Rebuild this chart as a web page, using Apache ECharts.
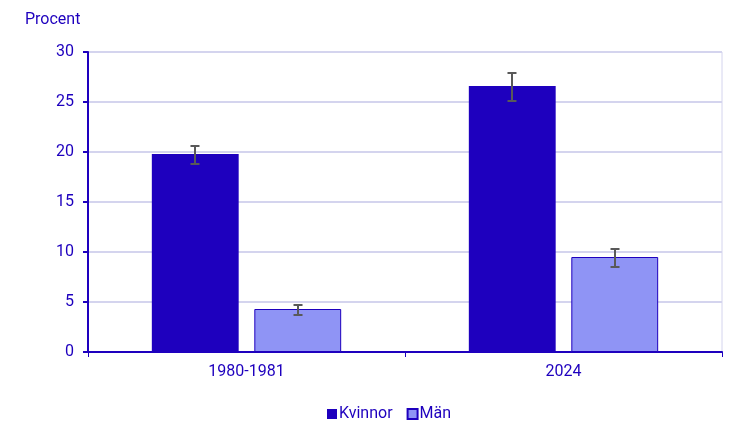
<!DOCTYPE html>
<html>
<head>
<meta charset="utf-8">
<script src="https://cdn.jsdelivr.net/npm/echarts@6/dist/echarts.min.js"></script>
<style>
  html, body { margin: 0; padding: 0; background: #fff; }
  #chart { width: 751px; height: 433px; }
</style>
</head>
<body>
<div id="chart"></div>
<script>
// data
const categories = ['1980-1981', '2024'];
const kvinnor = [19.8, 26.6];
const man = [4.3, 9.5];
// konfidensintervall
const kvinnorLow = [18.8, 25.1];
const kvinnorHigh = [20.6, 27.9];
const manLow = [3.7, 8.5];
const manHigh = [4.7, 10.3];

const textBlue = '#1e00be';
const darkBar = '#1e00be';
const lightBar = '#8f94f5';
const gridColor = '#d4d4ee';
const errColor = '#595959';

// offset of each bar centre from the category centre, as share of band
const barShift = 0.1625;

const errorData = (low, high) => categories.map((c, i) => [i, low[i], high[i]]);

const renderError = shift => (params, api) => {
    const band = api.size([1, 0])[0];
    const lo = api.coord([api.value(0), api.value(1)]);
    const hi = api.coord([api.value(0), api.value(2)]);
    const x = lo[0] + shift * band;
    const cap = 4.5;
    const style = { stroke: errColor, lineWidth: 2 };
    return {
        type: 'group',
        children: [
            { type: 'line', shape: { x1: x, y1: lo[1], x2: x, y2: hi[1] }, style },
            { type: 'line', shape: { x1: x - cap, y1: lo[1], x2: x + cap, y2: lo[1] }, style },
            { type: 'line', shape: { x1: x - cap, y1: hi[1], x2: x + cap, y2: hi[1] }, style }
        ]
    };
};

const chart = echarts.init(document.getElementById('chart'));
chart.setOption({
    animation: false,
    textStyle: { fontFamily: 'Roboto', color: textBlue },
    grid: { left: 88, right: 29, top: 52, bottom: 81, show: true, borderColor: gridColor, borderWidth: 1 },
    graphic: [{
        type: 'text', left: 25, top: 12,
        style: { text: 'Procent', fill: textBlue, font: '16px Roboto' }
    }],
    legend: {
        bottom: 6,
        left: 322,
        itemWidth: 10,
        itemHeight: 10,
        itemGap: 14,
        icon: 'rect',
        data: ['Kvinnor', 'Män'],
        textStyle: { color: textBlue, fontSize: 16, fontFamily: 'Roboto', padding: [0, 0, 0, -3] }
    },
    xAxis: {
        type: 'category',
        data: categories,
        axisLine: { lineStyle: { color: textBlue, width: 2 } },
        axisTick: { show: true, length: 5, lineStyle: { color: textBlue, width: 1 } },
        axisLabel: { color: textBlue, fontSize: 16, margin: 12 }
    },
    yAxis: {
        type: 'value',
        min: 0,
        max: 30,
        interval: 5,
        axisLine: { show: true, lineStyle: { color: textBlue, width: 2 } },
        axisTick: { show: true, length: 5, lineStyle: { color: textBlue, width: 2 } },
        axisLabel: { color: textBlue, fontSize: 16, margin: 14 },
        splitLine: { lineStyle: { color: gridColor, width: 2 } }
    },
    series: [
        {
            name: 'Kvinnor',
            type: 'bar',
            data: kvinnor,
            barWidth: '27.4%',
            barGap: '18%',
            itemStyle: { color: darkBar }
        },
        {
            name: 'Män',
            type: 'bar',
            data: man,
            barWidth: '27.4%',
            itemStyle: { color: lightBar, borderColor: darkBar, borderWidth: 1 }
        },
        {
            type: 'custom',
            renderItem: renderError(-barShift),
            data: errorData(kvinnorLow, kvinnorHigh),
            encode: { x: 0, y: [1, 2] },
            z: 10
        },
        {
            type: 'custom',
            renderItem: renderError(barShift),
            data: errorData(manLow, manHigh),
            encode: { x: 0, y: [1, 2] },
            z: 10
        }
    ]
});
</script>
</body>
</html>
